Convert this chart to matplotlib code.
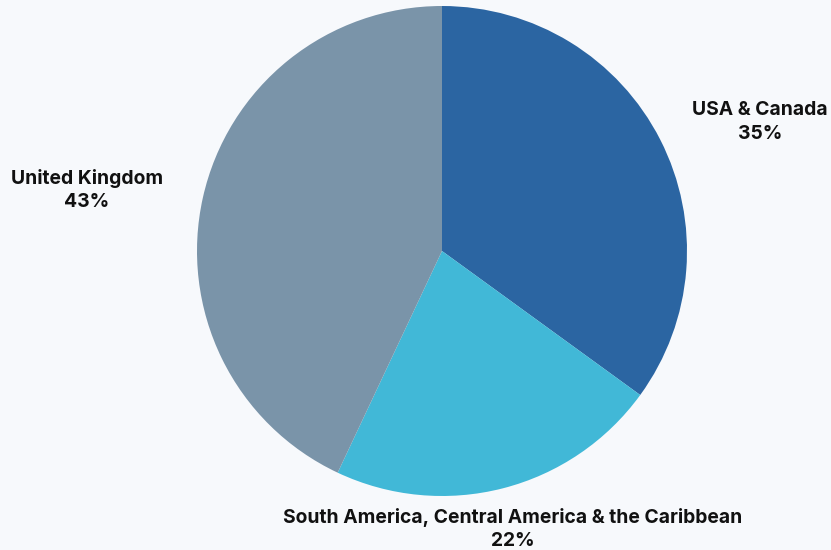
import matplotlib.pyplot as plt

regions = ["USA & Canada", "South America, Central America & the Caribbean", "United Kingdom"]
shares = [35, 22, 43]
colors = ["#2b65a2", "#41b8d7", "#7a94a9"]

W, H = 831, 550
bg = "#f7f9fc"
fig = plt.figure(figsize=(W / 100, H / 100), dpi=100)
fig.patch.set_facecolor(bg)
ax = fig.add_axes([0, 0, 1, 1])
ax.set_facecolor(bg)

ax.pie(shares, colors=colors, startangle=90, counterclock=False,
       center=(442, H - 251), radius=245, frame=True,
       wedgeprops=dict(linewidth=0))
ax.set_xlim(0, W)
ax.set_ylim(0, H)
ax.set_aspect("equal")
ax.axis("off")

label_pos = [(760, H - 122), (513, H - 529), (87, H - 190)]
for name, val, (x, y) in zip(regions, shares, label_pos):
    ax.text(x, y, f"{name}\n{val}%", ha="center", va="center",
            fontsize=13.9, fontweight="bold", family="Inter",
            color="#111111", linespacing=1.42)

fig.savefig("out.png", dpi=100, facecolor=fig.get_facecolor())
